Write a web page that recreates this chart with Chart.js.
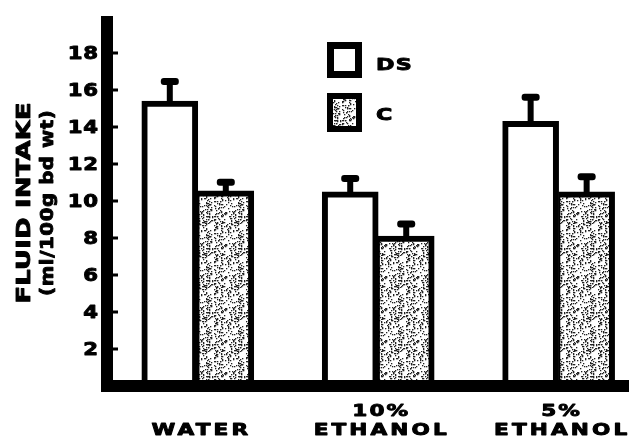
<!DOCTYPE html>
<html>
<head>
<meta charset="utf-8">
<script src="https://cdn.jsdelivr.net/npm/chart.js@4.4.0/dist/chart.umd.min.js"></script>
<style>
  html, body { margin: 0; padding: 0; background: #fff; }
</style>
</head>
<body>
<canvas id="fluidChart" width="629" height="443"></canvas>
<script>
// data
const groups = [['', 'WATER'], ['10%', 'ETHANOL'], ['5%', 'ETHANOL']];
const seriesNames = ['DS', 'C'];
const dsValues = [15.4, 10.5, 14.3];
const dsErrors = [1.25, 0.9, 1.5];
const cValues = [10.55, 8.1, 10.5];
const cErrors = [0.65, 0.85, 1.0];
const yTicks = [2, 4, 6, 8, 10, 12, 14, 16, 18];

const FONT = '"DejaVu Sans", sans-serif';

// dotted fill like the printed stipple
function stipple() {
    const c = document.createElement('canvas');
    c.width = c.height = 32;
    const g = c.getContext('2d');
    g.fillStyle = '#fff';
    g.fillRect(0, 0, 32, 32);
    g.fillStyle = '#222';
    let s = 0x9e3779b9;
    const next = () => {
        s ^= s << 13; s >>>= 0;
        s ^= s >>> 17;
        s ^= s << 5; s >>>= 0;
        return s;
    };
    for (let k = 0; k < 200; k++) {
        const px = next() % 32;
        const py = next() % 32;
        g.fillRect(px, py, 1.3, 1.3);
    }
    return g.createPattern(c, 'repeat');
}
const dots = stipple();

// wide heavy lettering: stretched horizontally, a thin outline for weight
function wideText(ctx, str, x, y, size, stretch, spacing, align) {
    ctx.save();
    ctx.font = 'bold ' + size + 'px ' + FONT;
    ctx.letterSpacing = spacing + 'px';
    const w = (ctx.measureText(str).width - spacing) * stretch;
    let left = x;
    if (align === 'center') left = x - w / 2;
    if (align === 'right') left = x - w;
    ctx.translate(left, y);
    ctx.scale(stretch, 1);
    ctx.textAlign = 'left';
    ctx.textBaseline = 'middle';
    ctx.fillStyle = '#000';
    ctx.strokeStyle = '#000';
    ctx.lineWidth = 0.9;
    ctx.lineJoin = 'round';
    ctx.fillText(str, 0, 0);
    ctx.strokeText(str, 0, 0);
    ctx.restore();
}

const paperPlugin = {
    id: 'paper',
    afterDatasetsDraw(chart) {
        const { ctx, chartArea: a, scales: { x, y } } = chart;
        ctx.save();
        ctx.fillStyle = '#000';

        // error bars, upward only
        [[dsValues, dsErrors], [cValues, cErrors]].forEach(([vals, errs], i) => {
            chart.getDatasetMeta(i).data.forEach((bar, j) => {
                const top = y.getPixelForValue(vals[j] + errs[j]);
                ctx.fillRect(bar.x - 3, top + 2, 6, bar.y - top);
                ctx.beginPath();
                ctx.roundRect(bar.x - 9, top, 18, 7, 3);
                ctx.fill();
            });
        });

        // heavy axes
        ctx.fillRect(a.left - 12, a.top, 12, a.bottom + 6 - a.top);
        ctx.fillRect(a.left - 12, a.bottom - 6, a.right - a.left + 12, 12);
        y.ticks.forEach(t => {
            if (!yTicks.includes(t.value)) return;
            const py = y.getPixelForValue(t.value);
            ctx.fillRect(a.left, py - 1.5, 5, 3);
            wideText(ctx, String(t.value), a.left - 15, py + 2, 17, 1.25, 0.5, 'right');
        });

        // category labels
        groups.forEach((lines, j) => {
            const px = x.getPixelForValue(j) + 2;
            if (lines[0]) wideText(ctx, lines[0], px, 412, 16, 1.35, 1.5, 'center');
            wideText(ctx, lines[1], px, 431, 16, 1.35, 2.3, 'center');
        });

        // y title
        ctx.save();
        ctx.translate(25, 203);
        ctx.rotate(-Math.PI / 2);
        wideText(ctx, 'FLUID INTAKE', 0, 0, 20, 1.28, 0.3, 'center');
        ctx.restore();
        ctx.save();
        ctx.translate(48, 203);
        ctx.rotate(-Math.PI / 2);
        wideText(ctx, '(ml/100g bd wt)', 0, 0, 18, 1.1, 0.5, 'center');
        ctx.restore();

        // legend
        ctx.strokeStyle = '#000';
        ctx.lineWidth = 7;
        ctx.fillStyle = '#fff';
        ctx.fillRect(330.5, 45.5, 28, 29);
        ctx.strokeRect(330.5, 45.5, 28, 29);
        ctx.lineWidth = 6;
        ctx.fillStyle = dots;
        ctx.fillRect(330, 96, 29, 33);
        ctx.strokeRect(330, 96, 29, 33);
        wideText(ctx, seriesNames[0], 376, 66, 16.5, 1.35, 1, 'left');
        wideText(ctx, seriesNames[1], 376, 116, 16.5, 1.35, 1, 'left');
        ctx.restore();
    }
};

new Chart(document.getElementById('fluidChart'), {
    type: 'bar',
    data: {
        datasets: [
            {
                label: seriesNames[0],
                data: dsValues.map((v, i) => ({ x: i, y: v })),
                backgroundColor: '#fff',
                borderColor: '#000',
                borderWidth: { top: 6, left: 6, right: 6, bottom: 0 },
                barThickness: 56
            },
            {
                label: seriesNames[1],
                data: cValues.map((v, i) => ({ x: i, y: v })),
                backgroundColor: dots,
                borderColor: '#000',
                borderWidth: { top: 6, left: 2, right: 6, bottom: 0 },
                barThickness: 56
            }
        ]
    },
    options: {
        responsive: false,
        animation: false,
        layout: { padding: { top: 16, right: 0, bottom: 0, left: 0 } },
        plugins: {
            legend: { display: false },
            tooltip: { enabled: false }
        },
        scales: {
            x: {
                type: 'linear',
                offset: false,
                min: -0.47,
                max: 2.39,
                ticks: { display: false },
                grid: { display: false, drawTicks: false },
                border: { display: false },
                afterFit(s) { s.height = 57; }
            },
            y: {
                min: 0,
                max: 20,
                ticks: { stepSize: 2, display: false },
                grid: { display: false, drawTicks: false },
                border: { display: false },
                afterFit(s) { s.width = 113; }
            }
        }
    },
    plugins: [paperPlugin]
});
</script>
</body>
</html>
